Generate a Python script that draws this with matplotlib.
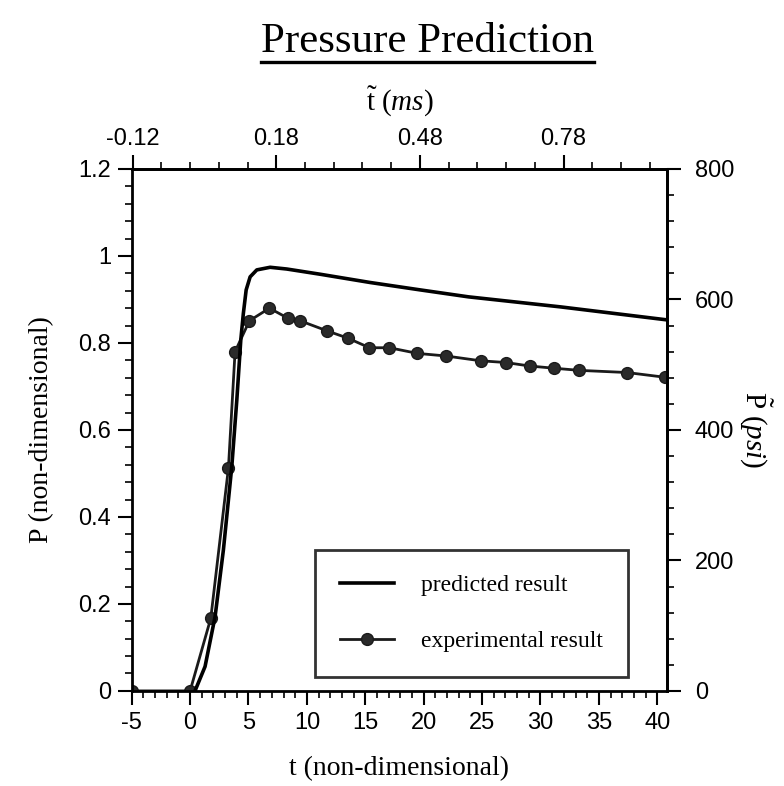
import matplotlib
matplotlib.use("Agg")
import matplotlib.pyplot as plt
from matplotlib.ticker import MultipleLocator, FixedLocator, FormatStrFormatter
from matplotlib.lines import Line2D
from matplotlib.font_manager import FontProperties

# ---- data ----
pred_t = [0.42, 1.28, 2.14, 2.85, 3.57, 4.0, 4.34, 4.56, 4.80, 5.14, 5.71, 6.85,
          8.28, 11.14, 15.42, 19.7, 23.84, 31.7, 40.85]
pred_p = [0.0, 0.056, 0.171, 0.324, 0.516, 0.669, 0.807, 0.868, 0.922, 0.952, 0.968, 0.974,
          0.970, 0.958, 0.939, 0.922, 0.906, 0.883, 0.853]

exp_t = [-5, 0, 1.77, 3.28, 3.85, 5.08, 6.79, 8.37, 9.42, 11.71, 13.51, 15.36, 17.07,
         19.47, 21.93, 24.88, 27.05, 29.07, 31.13, 33.33, 37.42, 40.7]
exp_p = [0.0, 0.0, 0.167, 0.512, 0.78, 0.851, 0.880, 0.857, 0.851, 0.828, 0.811, 0.789,
         0.789, 0.776, 0.770, 0.759, 0.755, 0.747, 0.742, 0.737, 0.732, 0.721]
exp_err = [0.012] * len(exp_t)

bottom_ticks = [-5, 0, 5, 10, 15, 20, 25, 30, 35, 40]
left_ticks = [0, 0.2, 0.4, 0.6, 0.8, 1.0, 1.2]
left_labels = ['0', '0.2', '0.4', '0.6', '0.8', '1', '1.2']
top_ticks = [-0.12, 0.18, 0.48, 0.78]
right_ticks = [0, 200, 400, 600, 800]

T_PER_MS = 41.0
PSI_PER_P = 800 / 1.2

plt.rcParams['mathtext.fontset'] = 'custom'
plt.rcParams['mathtext.rm'] = 'Liberation Serif'
plt.rcParams['mathtext.it'] = 'Liberation Serif:italic'
plt.rcParams['axes.unicode_minus'] = False

fig = plt.figure(figsize=(7.84, 7.86), dpi=100)
ax = fig.add_axes([0.168, 0.121, 0.683, 0.664])

ax.plot(pred_t, pred_p, color='black', lw=2.6, solid_joinstyle='round', zorder=3)
ax.errorbar(exp_t, exp_p, yerr=exp_err, color='#1a1a1a', lw=2.0, marker='o',
            markersize=8.5, mfc='#2a2a2a', mec='#1a1a1a', elinewidth=1.4, capsize=0, zorder=2)

ax.set_xlim(-5, 40.85)
ax.set_ylim(0, 1.2)
ax.xaxis.set_major_locator(FixedLocator(bottom_ticks))
ax.xaxis.set_minor_locator(MultipleLocator(1))
ax.yaxis.set_major_locator(FixedLocator(left_ticks))
ax.yaxis.set_minor_locator(MultipleLocator(0.04))
ax.set_yticklabels(left_labels)

tick_fp = FontProperties(family='Liberation Sans', size=17)
for lab in ax.get_xticklabels() + ax.get_yticklabels():
    lab.set_fontproperties(tick_fp)

for sp in ax.spines.values():
    sp.set_linewidth(2.0)

ax.tick_params(which='major', direction='out', length=10, width=1.5, pad=5)
ax.tick_params(which='minor', direction='out', length=5, width=1.2)

serif = 'Liberation Serif'
ax.set_xlabel('t (non-dimensional)', fontfamily=serif, fontsize=20, labelpad=16)
ax.set_ylabel('P (non-dimensional)', fontfamily=serif, fontsize=20, labelpad=17)

# top axis
top = ax.secondary_xaxis('top', functions=(lambda t: t / T_PER_MS, lambda m: m * T_PER_MS))
top.xaxis.set_major_locator(FixedLocator(top_ticks))
top.xaxis.set_minor_locator(MultipleLocator(0.06))
top.xaxis.set_major_formatter(FormatStrFormatter('%.2f'))
top.tick_params(which='major', direction='out', length=10, width=1.5, pad=4)
top.tick_params(which='minor', direction='out', length=5, width=1.2)
for lab in top.get_xticklabels():
    lab.set_fontproperties(tick_fp)
top.set_xlabel(r'$\tilde{\mathrm{t}}\ \mathrm{(}ms\mathrm{)}$', fontsize=21, labelpad=12)
top.spines['top'].set_linewidth(2.0)

# right axis
right = ax.secondary_yaxis('right', functions=(lambda p: p * PSI_PER_P, lambda s: s / PSI_PER_P))
right.yaxis.set_major_locator(FixedLocator(right_ticks))
right.yaxis.set_minor_locator(MultipleLocator(40))
right.tick_params(which='major', direction='out', length=10, width=1.5, pad=10)
right.tick_params(which='minor', direction='out', length=5, width=1.2)
for lab in right.get_yticklabels():
    lab.set_fontproperties(tick_fp)
right.set_ylabel(r'$\tilde{\mathrm{P}}\ \mathrm{(}psi\mathrm{)}$', fontsize=21, rotation=270,
                 labelpad=28)
right.spines['right'].set_linewidth(2.0)

# legend
h1 = Line2D([], [], color='black', lw=2.6)
h2 = Line2D([], [], color='#1a1a1a', lw=2.0, marker='o', markersize=8.5, mfc='#2a2a2a')
leg = ax.legend([h1, h2], ['predicted result', 'experimental result'],
                loc='lower right', bbox_to_anchor=(0.927, 0.027), frameon=True, fancybox=False,
                edgecolor='black', prop={'family': serif, 'size': 17}, borderpad=1.05,
                labelspacing=1.45, handlelength=2.3, handletextpad=1.15, borderaxespad=0)
leg.get_frame().set_linewidth(2.0)

# title with underline
title = fig.text(0.545, 0.947, 'Pressure Prediction', ha='center', va='center',
                 fontfamily=serif, fontsize=31)
fig.canvas.draw()
bb = title.get_window_extent(fig.canvas.get_renderer())
x0, x1 = bb.x0 / fig.bbox.width, bb.x1 / fig.bbox.width
yline = (bb.y0 - 1) / fig.bbox.height
fig.add_artist(Line2D([x0, x1], [yline, yline], color='black', lw=2.4, transform=fig.transFigure))

fig.savefig('out.png', dpi=100, facecolor='white')
